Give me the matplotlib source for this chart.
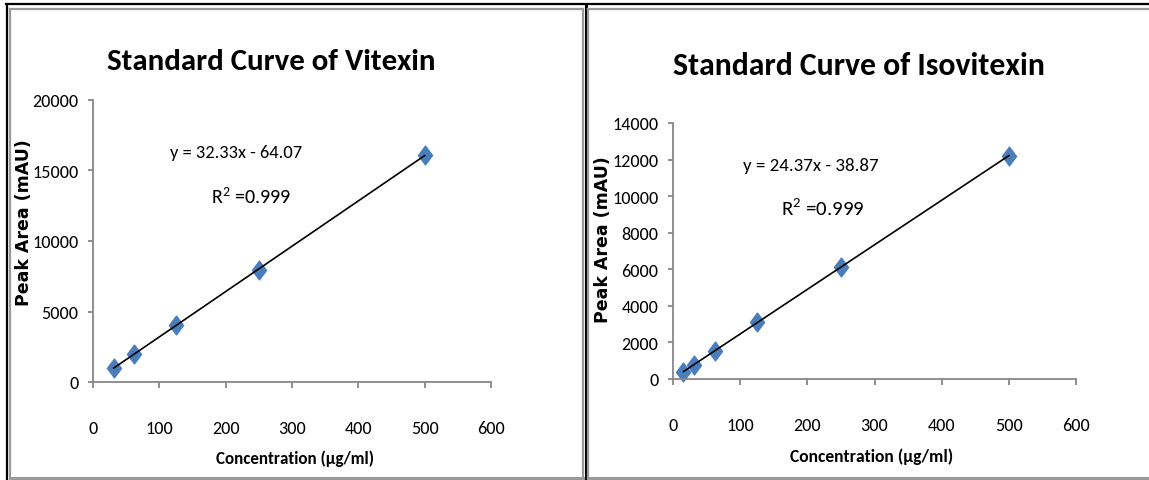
import numpy as np
import matplotlib
matplotlib.use("Agg")
import matplotlib.pyplot as plt
from matplotlib.path import Path
from matplotlib.lines import Line2D
from matplotlib import font_manager

# ---------------- data ----------------
vit_conc = [31.25, 62.5, 125, 250, 500]
vit_area = [995, 1990, 4040, 7960, 16080]
vit_title = "Standard Curve of Vitexin"
vit_eq = "y = 32.33x - 64.07"
vit_yticks = [0, 5000, 10000, 15000, 20000]

iso_conc = [15.625, 31.25, 62.5, 125, 250, 500]
iso_area = [400, 790, 1550, 3090, 6100, 12220]
iso_title = "Standard Curve of Isovitexin"
iso_eq = "y = 24.37x - 38.87"
iso_yticks = [0, 2000, 4000, 6000, 8000, 10000, 12000, 14000]

x_ticks = [0, 100, 200, 300, 400, 500, 600]
r2_text = "R$^2$ =0.999"
xlabel = "Concentration (\u00b5g/ml)"
ylabel = "Peak Area (mAU)"

# ---------------- fonts ----------------
names = {f.name for f in font_manager.fontManager.ttflist}
narrow = "Liberation Sans"
for cand in ["Carlito", "Fira Sans Condensed", "Roboto Condensed", "Archivo Narrow",
             "PT Sans Narrow", "Liberation Sans Narrow", "Open Sans Condensed"]:
    if cand in names:
        narrow = cand
        break
NARROW = [narrow, "DejaVu Sans"]
plt.rcParams["mathtext.fontset"] = "custom"
plt.rcParams["mathtext.rm"] = narrow

W, H = 1149, 481
fig = plt.figure(figsize=(W / 100, H / 100), dpi=100)
fig.patch.set_facecolor("white")
renderer = fig.canvas.get_renderer()
GROW = 1.07   # the reference glyphs are taller than their width suggests

def fx(px):
    return px / W

def fy(py):
    return 1 - py / H

def fit(txt, target_px, vertical=False):
    """Scale the font size of a text so its rendered extent matches target_px."""
    for _ in range(3):
        bb = txt.get_window_extent(renderer)
        cur = bb.height if vertical else bb.width
        txt.set_fontsize(txt.get_fontsize() * target_px / cur)
    return txt.get_fontsize()

probe = fig.text(0, 0, "20000", family=NARROW, fontsize=12)
tick_fs = fit(probe, 43 * GROW)
probe.remove()

# ---------------- frame lines ----------------
gray = "#9a9a9a"
frame = [
    ((6, 1149), (5, 5), "black", 1.6),
    ((7, 7), (5, 481), "black", 1.6),
    ((585.5, 585.5), (5, 481), "black", 2.2),
    ((10, 583), (10, 10), gray, 1.6),
    ((10, 10), (10, 479), gray, 1.6),
    ((10, 583), (479, 479), gray, 2.2),
    ((583, 583), (10, 479), gray, 1.6),
    ((588, 1149), (10, 10), gray, 1.6),
    ((588, 588), (10, 479), gray, 1.6),
    ((588, 1149), (479, 479), gray, 2.2),
]
for xs, ys, c, lw in frame:
    fig.add_artist(Line2D([fx(v) for v in xs], [fy(v) for v in ys],
                          transform=fig.transFigure, color=c, lw=lw))

diamond = Path([(0, 1), (0.75, 0), (0, -1), (-0.75, 0), (0, 1)],
               [Path.MOVETO, Path.LINETO, Path.LINETO, Path.LINETO, Path.CLOSEPOLY])

axis_gray = "#878787"

def panel(box, conc, area, yticks, title, eq, title_xyw, eq_xyw, r2_xyw, ylab_xy, xlab_xyw):
    x0, x1, ytop, ybot = box
    ax = fig.add_axes([fx(x0), fy(ybot), fx(x1 - x0), (ybot - ytop) / H])
    ax.set_xlim(0, 600)
    ax.set_ylim(yticks[0], yticks[-1])
    ax.set_xticks(x_ticks)
    ax.set_yticks(yticks)
    for s in ("top", "right"):
        ax.spines[s].set_visible(False)
    for s in ("left", "bottom"):
        ax.spines[s].set_color(axis_gray)
        ax.spines[s].set_linewidth(1.3)
    ax.tick_params(direction="out", width=1.3, color=axis_gray, labelsize=tick_fs)
    ax.tick_params(axis="y", length=3.6, pad=7)
    ax.tick_params(axis="x", length=4.3, pad=23)
    for lab in ax.get_xticklabels() + ax.get_yticklabels():
        lab.set_family(NARROW)
    ax.patch.set_alpha(0)
    # fitted trend line from the data
    k, b = np.polyfit(conc, area, 1)
    xs = np.array([min(conc), max(conc)])
    ax.plot(xs, k * xs + b, color="black", lw=1.2, zorder=3)
    ax.plot(conc, area, linestyle="none", marker=diamond, markersize=13.5,
            color="#4a7ebb", markeredgecolor="#4a7ebb", zorder=2, clip_on=False)
    t = fig.text(fx(title_xyw[0]), fy(title_xyw[1]), title, family=NARROW,
                 fontweight="bold", fontsize=22, ha="center", va="center")
    fit(t, title_xyw[2] * GROW)
    t = fig.text(fx(eq_xyw[0]), fy(eq_xyw[1]), eq, family=NARROW, fontsize=14,
                 ha="center", va="center")
    fit(t, eq_xyw[2] * GROW)
    t = fig.text(fx(r2_xyw[0]), fy(r2_xyw[1]), r2_text, family=NARROW, fontsize=15,
                 ha="center", va="center")
    fit(t, r2_xyw[2] * GROW)
    fig.text(fx(ylab_xy[0]), fy(ylab_xy[1]), ylabel, family=["DejaVu Sans"],
             fontweight="bold", fontsize=12.5, rotation=90, ha="center", va="center")
    t = fig.text(fx(xlab_xyw[0]), fy(xlab_xyw[1]), xlabel, family=NARROW,
                 fontweight="bold", fontsize=13, ha="center", va="center")
    fit(t, xlab_xyw[2] * GROW)
    return ax

panel((93, 491, 101, 383), vit_conc, vit_area, vit_yticks, vit_title, vit_eq,
      (271, 62, 308), (236, 153, 125), (251, 197, 75), (24, 223), (295, 459, 149))
panel((673, 1076, 124, 380), iso_conc, iso_area, iso_yticks, iso_title, iso_eq,
      (859, 66, 348), (811, 166, 128), (823, 208, 78), (603, 240), (872, 457, 151))

fig.savefig("out.png", dpi=100, facecolor="white")
